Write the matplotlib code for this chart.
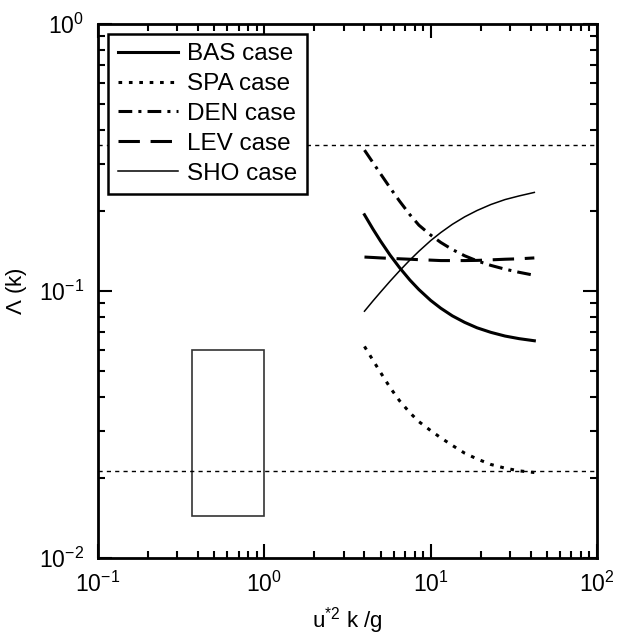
import numpy as np
import matplotlib
matplotlib.use('Agg')
import matplotlib.pyplot as plt
from matplotlib.patches import Rectangle

plt.rcParams['font.family'] = ['Liberation Sans', 'DejaVu Sans']
plt.rcParams['mathtext.default'] = 'regular'

# ─── Données ───
x_k = [4, 4.5, 5, 5.7, 6.5, 7.5, 8.5, 10, 11.5, 13.5, 16, 19, 23, 28, 34, 42]
lam_bas = [0.193, 0.1705, 0.1537, 0.1363, 0.1223, 0.1099, 0.1012, 0.0922,
           0.0862, 0.0807, 0.0763, 0.0728, 0.0700, 0.0678, 0.0663, 0.0651]
lam_spa = [0.062, 0.055, 0.0495, 0.0435, 0.0388, 0.0350, 0.0324, 0.0300,
           0.0282, 0.0264, 0.0247, 0.0235, 0.0224, 0.0217, 0.0212, 0.0209]
lam_den = [0.337, 0.3024, 0.2745, 0.2436, 0.2171, 0.1931, 0.1764, 0.162,
           0.152, 0.143, 0.1355, 0.1297, 0.1247, 0.1207, 0.1175, 0.1145]
lam_lev = [0.134, 0.1335, 0.133, 0.1325, 0.132, 0.1315, 0.131, 0.1305,
           0.130, 0.130, 0.130, 0.1302, 0.1308, 0.1315, 0.132, 0.133]
lam_sho = [0.084, 0.0918, 0.0991, 0.1088, 0.1190, 0.1306, 0.1409, 0.1544,
           0.1655, 0.1777, 0.1895, 0.2002, 0.2108, 0.2200, 0.2270, 0.2340]

h_lines = [0.352, 0.0212]            # niveaux horizontaux pointillés
box_x = [0.37, 1.0]                  # rectangle (x min, x max)
box_y = [0.0144, 0.06]               # rectangle (y min, y max)

labels = ['BAS case', 'SPA case', 'DEN case', 'LEV case', 'SHO case']

fig = plt.figure(figsize=(6.17, 6.35), dpi=100)
ax = fig.add_axes([0.1588, 0.1213, 0.8088, 0.8409])

ax.plot(x_k, lam_bas, color='k', lw=2.2, ls='-', label=labels[0])
ax.plot(x_k, lam_spa, color='k', lw=2.2, ls=(0, (1.2, 2.2)), label=labels[1])
ax.plot(x_k, lam_den, color='k', lw=2.2, ls=(0, (4.5, 2, 1, 2)), label=labels[2])
ax.plot(x_k, lam_lev, color='k', lw=2.2, ls=(0, (7, 3.5)), label=labels[3])
ax.plot(x_k, lam_sho, color='k', lw=1.1, ls='-', label=labels[4])

for h in h_lines:
    ax.axhline(h, color='k', lw=1.0, ls=(0, (3, 3)))

ax.add_patch(Rectangle((box_x[0], box_y[0]), box_x[1] - box_x[0], box_y[1] - box_y[0],
                       fill=False, edgecolor='#333333', lw=1.2))

ax.set_xscale('log')
ax.set_yscale('log')
ax.set_xlim(0.1, 100)
ax.set_ylim(0.01, 1)

for s in ax.spines.values():
    s.set_linewidth(2.0)
ax.tick_params(which='both', direction='in', top=True, right=True, labelsize=16.5, width=1.5)
ax.tick_params(which='major', length=10, pad=10)
ax.tick_params(which='minor', length=5)

ax.set_xlabel(r'u$^{*2}$ k /g', fontsize=16, labelpad=6)
ax.set_ylabel(r'$\Lambda$ (k)', fontsize=16, labelpad=7)

leg = ax.legend(loc='upper left', bbox_to_anchor=(0.02, 0.982), borderaxespad=0,
                fontsize=17.5, handlelength=2.5, handletextpad=0.35, labelspacing=0.32,
                fancybox=False, edgecolor='k', framealpha=1, borderpad=0.4)
leg.get_frame().set_linewidth(1.8)

plt.savefig('out.png', dpi=100)
